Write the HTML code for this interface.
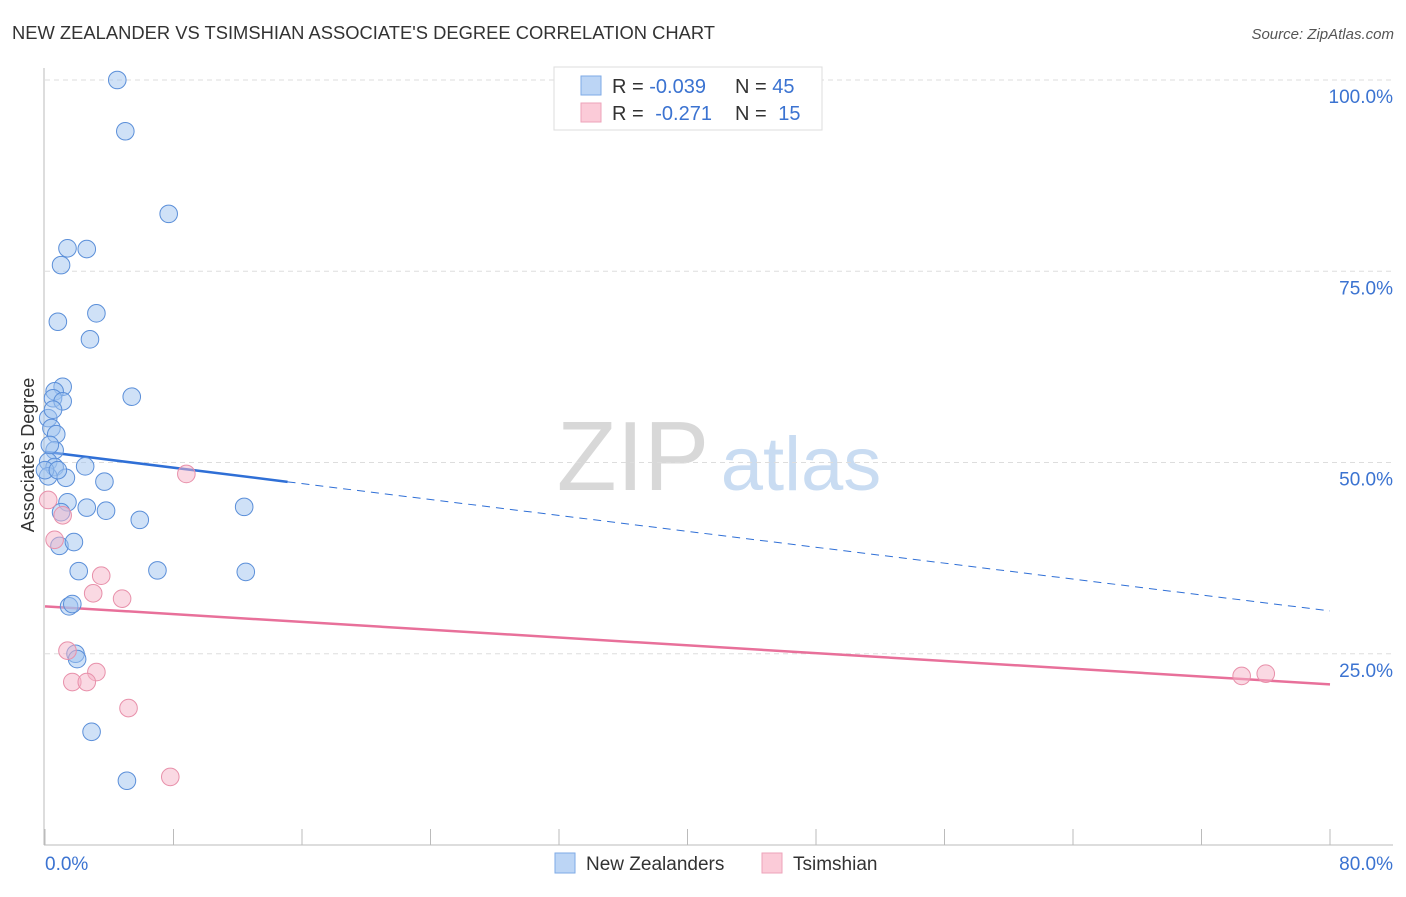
<!DOCTYPE html>
<html><head><meta charset="utf-8"><style>
body{margin:0;background:#fff;font-family:"Liberation Sans",sans-serif;}
svg text{font-family:"Liberation Sans",sans-serif;}
</style></head><body>
<svg id="chart" width="1406" height="892">
<text x="12" y="39" font-size="18" fill="#333" textLength="703" lengthAdjust="spacingAndGlyphs">NEW ZEALANDER VS TSIMSHIAN ASSOCIATE'S DEGREE CORRELATION CHART</text>
<text x="1394" y="39" font-size="15" fill="#555" font-style="italic" text-anchor="end">Source: ZipAtlas.com</text>
<g>
<text x="633" y="490" font-size="98" font-family="Liberation Serif" fill="#d8d8d8" text-anchor="middle">ZIP</text>
<text x="801" y="490" font-size="76" fill="#c9dcf2" text-anchor="middle">atlas</text>
</g>
<g id="grid"></g>
<g id="axes"></g>
<g id="lines"></g>
<g id="points"></g>
<text transform="translate(34,455) rotate(-90)" font-size="18" fill="#333" text-anchor="middle">Associate's Degree</text>
<g>
<rect x="554" y="67" width="268" height="63" fill="#fff" stroke="#ddd"/>
<rect x="581" y="76" width="20" height="19" fill="#bcd5f5" stroke="#7eaae6"/>
<rect x="581" y="103" width="20" height="19" fill="#fbcbd8" stroke="#eea3ba"/>
<text x="612" y="93" font-size="20" fill="#333">R = <tspan fill="#3b73d1">-0.039</tspan></text>
<text x="735" y="93" font-size="20" fill="#333">N = <tspan fill="#3b73d1">45</tspan></text>
<text x="612" y="120" font-size="20" fill="#333">R = <tspan fill="#3b73d1" dx="6">-0.271</tspan></text>
<text x="735" y="120" font-size="20" fill="#333">N = <tspan fill="#3b73d1" dx="6">15</tspan></text>
</g>
<g>
<rect x="555" y="853" width="20" height="20" fill="#bcd5f5" stroke="#7eaae6"/>
<text x="586" y="870" font-size="19" fill="#333">New Zealanders</text>
<rect x="762" y="853" width="20" height="20" fill="#fbcbd8" stroke="#eea3ba"/>
<text x="793" y="870" font-size="19" fill="#333">Tsimshian</text>
</g>
</svg>
<script>
const yTicks=[25,50,75,100];
const yTickLabels=["25.0%","50.0%","75.0%","100.0%"];
const xTicks=[0,8,16,24,32,40,48,56,64,72,80];
const nzX=[4.5,5.0,7.7,1.4,2.6,1.0,3.2,0.8,2.8,1.1,0.6,0.5,1.1,5.4,0.2,0.4,0.7,0.6,0.2,0.6,2.5,0.2,1.3,3.7,1.4,2.6,1.0,3.8,5.9,12.4,0.9,1.8,2.1,7.0,12.5,1.5,1.7,1.9,2.0,2.9,5.1,0.0,0.3,0.8,0.5];
const nzY=[100.0,93.3,82.5,78.0,77.9,75.8,69.5,68.4,66.1,59.9,59.3,58.4,58.0,58.6,55.8,54.5,53.7,51.6,50.1,49.4,49.5,48.2,48.0,47.5,44.8,44.1,43.5,43.7,42.5,44.2,39.1,39.6,35.8,35.9,35.7,31.2,31.5,25.0,24.3,14.8,8.4,49.0,52.3,49.0,56.9];
const tsX=[8.8,1.1,0.6,3.5,3.0,4.8,1.4,3.2,1.7,2.6,5.2,7.8,74.5,76.0,0.2];
const tsY=[48.5,43.1,39.9,35.2,32.9,32.2,25.4,22.6,21.3,21.3,17.9,8.9,22.1,22.4,45.1];
const nzTrend=[51.4,30.6];
const tsTrend=[31.2,21.0];
const nzSolidEnd=15.1;
const NS="http://www.w3.org/2000/svg";
const sx=v=>45+v*(1285/80);
const sy=v=>845-v*7.65;
function mk(tag,attrs,parent){const e=document.createElementNS(NS,tag);for(const k in attrs)e.setAttribute(k,attrs[k]);document.getElementById(parent).appendChild(e);return e;}
yTicks.forEach((t,i)=>{
 const g=mk('line',{x1:45,x2:1393,y1:sy(t),y2:sy(t),stroke:'#ddd','stroke-dasharray':'5,4'},'grid');
 
 
 const l=mk('text',{x:1393,y:sy(t)+23,'font-size':19,fill:'#3b73d1','text-anchor':'end'},'grid');
 l.textContent=yTickLabels[i];
 
 
});
const ya=mk('line',{x1:44,x2:44,y1:68,y2:845,stroke:'#bbb'},'axes');


const xa=mk('line',{x1:44,x2:1393,y1:845,y2:845,stroke:'#bbb'},'axes');


xTicks.forEach(t=>{
 const tk=mk('line',{x1:sx(t),x2:sx(t),y1:829,y2:845,stroke:'#bbb'},'axes');
 
 
});
const x0=mk('text',{x:45,y:870,'font-size':19,fill:'#3b73d1'},'axes');x0.textContent='0.0%';


const x1=mk('text',{x:1393,y:870,'font-size':19,fill:'#3b73d1','text-anchor':'end'},'axes');x1.textContent='80.0%';


const ty=x=>nzTrend[0]+(nzTrend[1]-nzTrend[0])*x/80;
const a=mk('line',{x1:sx(0),y1:sy(nzTrend[0]),x2:sx(nzSolidEnd),y2:sy(ty(nzSolidEnd)),stroke:'#2f6fd6','stroke-width':2.5},'lines');


const b=mk('line',{x1:sx(nzSolidEnd),y1:sy(ty(nzSolidEnd)),x2:sx(80),y2:sy(nzTrend[1]),stroke:'#2f6fd6','stroke-width':1,'stroke-dasharray':'8,6'},'lines');


const c=mk('line',{x1:sx(0),y1:sy(tsTrend[0]),x2:sx(80),y2:sy(tsTrend[1]),stroke:'#e8709a','stroke-width':2.5},'lines');


nzX.forEach((x,i)=>{
 const p=mk('circle',{cx:sx(x),cy:sy(nzY[i]),r:8.8,fill:'rgba(160,196,240,0.5)',stroke:'#5b8fd9','stroke-width':1},'points');
 
 
});
tsX.forEach((x,i)=>{
 const p=mk('circle',{cx:sx(x),cy:sy(tsY[i]),r:8.8,fill:'rgba(245,180,200,0.5)',stroke:'#e890aa','stroke-width':1},'points');
 
 
});
</script>
</body></html>
